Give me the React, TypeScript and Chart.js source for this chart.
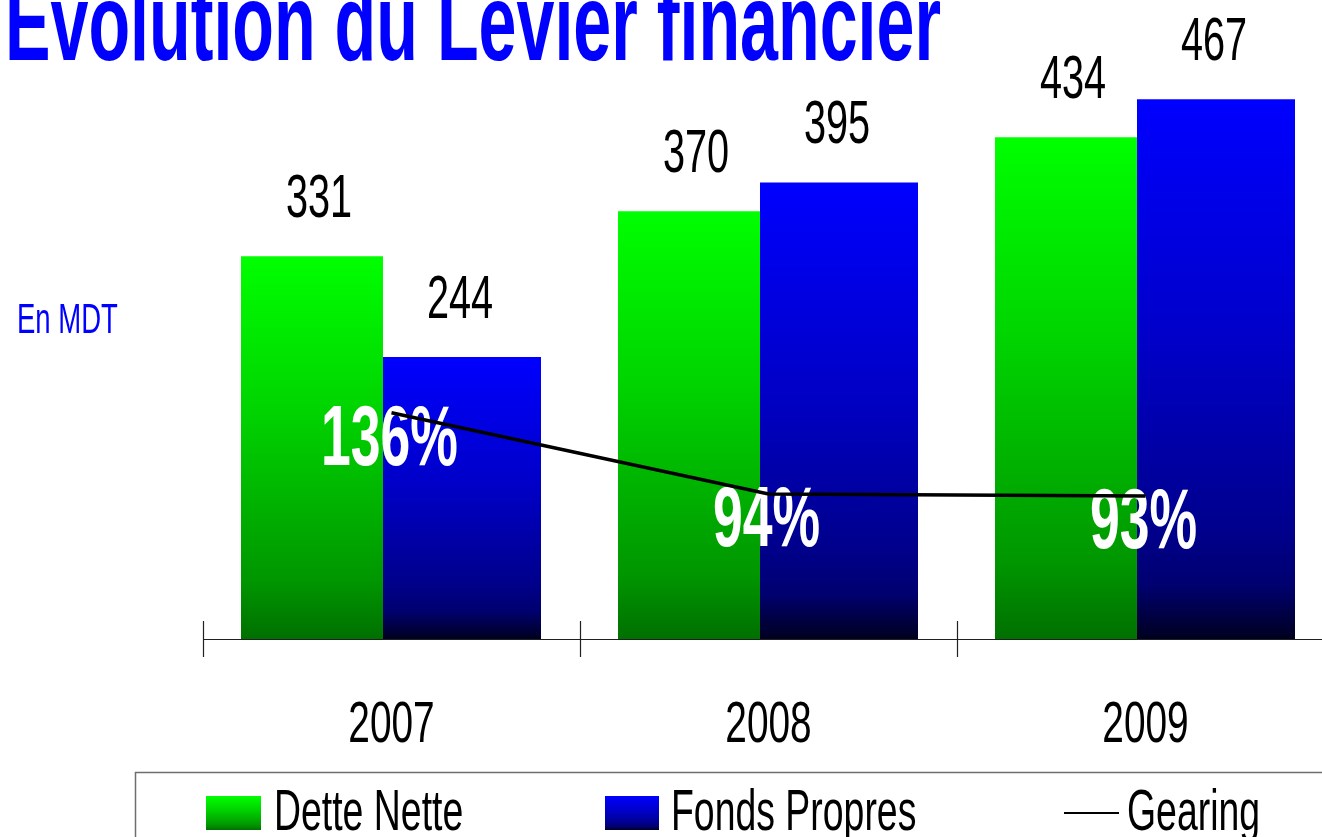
import React, { useEffect, useRef } from "react";
import { Chart, registerables } from "chart.js";

Chart.register(...registerables);

const categories = ["2007", "2008", "2009"];
const detteNette = [331, 370, 434];
const fondsPropres = [244, 395, 467];
const gearing = [136, 94, 93];
const gearingLabels = ["136%", "94%", "93%"];
const seriesNames = ["Dette Nette", "Fonds Propres", "Gearing"];
const titleText = "Evolution du Levier financier";
const unitText = "En MDT";

const FONT = '"Liberation Sans", Arial, Helvetica, sans-serif';

function drawText(
  ctx: CanvasRenderingContext2D,
  text: string,
  x: number,
  y: number,
  size: number,
  weight: string,
  color: string,
  sx: number,
  align: "left" | "center"
) {
  ctx.save();
  ctx.font = `${weight} ${size}px ${FONT}`;
  ctx.fillStyle = color;
  ctx.textBaseline = "alphabetic";
  ctx.textAlign = "left";
  const w = ctx.measureText(text).width * sx;
  const x0 = align === "center" ? x - w / 2 : x;
  ctx.translate(x0, y);
  ctx.scale(sx, 1);
  ctx.fillText(text, 0, 0);
  ctx.restore();
}

function greenGradient(ctx: CanvasRenderingContext2D, top: number, bottom: number) {
  const g = ctx.createLinearGradient(0, top, 0, bottom);
  g.addColorStop(0, "#00FF00");
  g.addColorStop(0.4, "#00D400");
  g.addColorStop(0.85, "#009600");
  g.addColorStop(1, "#007000");
  return g;
}

function blueGradient(ctx: CanvasRenderingContext2D, top: number, bottom: number) {
  const g = ctx.createLinearGradient(0, top, 0, bottom);
  g.addColorStop(0, "#0000FF");
  g.addColorStop(0.45, "#0000C8");
  g.addColorStop(0.8, "#00008C");
  g.addColorStop(0.9, "#000070");
  g.addColorStop(1, "#000020");
  return g;
}

function barFill(kind: "green" | "blue") {
  return (c: any) => {
    const chart = c.chart;
    const ys = chart.scales && chart.scales.y;
    if (!ys || !chart.chartArea) return kind === "green" ? "#00C000" : "#0000C0";
    const v = c.raw as number;
    const top = ys.getPixelForValue(v);
    const bottom = ys.getPixelForValue(0);
    if (!isFinite(top) || !isFinite(bottom) || bottom - top < 1)
      return kind === "green" ? "#00C000" : "#0000C0";
    return kind === "green"
      ? greenGradient(chart.ctx, top, bottom)
      : blueGradient(chart.ctx, top, bottom);
  };
}

const overlayPlugin = {
  id: "overlay",
  beforeDatasetDraw(chart: any, args: any) {
    if (args.index !== 2) return;
    const ctx = chart.ctx as CanvasRenderingContext2D;
    const meta = chart.getDatasetMeta(2);
    meta.data.forEach((pt: any, i: number) => {
      drawText(ctx, gearingLabels[i], pt.x - 2, pt.y + 52, 85, "bold", "#FFFFFF", 0.63, "center");
    });
  },
  afterDatasetsDraw(chart: any) {
    const ctx = chart.ctx as CanvasRenderingContext2D;
    const area = chart.chartArea;
    const xs = chart.scales.x;
    // axis line and tick marks
    ctx.save();
    ctx.strokeStyle = "#202020";
    ctx.lineWidth = 1.2;
    ctx.beginPath();
    ctx.moveTo(area.left, area.bottom + 0.5);
    ctx.lineTo(area.right, area.bottom + 0.5);
    const n = categories.length;
    const step = (area.right - area.left) / n;
    for (let i = 0; i <= n; i++) {
      const x = Math.round(area.left + i * step) + 0.5;
      ctx.moveTo(x, area.bottom - 18);
      ctx.lineTo(x, area.bottom + 18);
    }
    ctx.stroke();
    ctx.restore();

    // value labels
    [0, 1].forEach((di) => {
      const meta = chart.getDatasetMeta(di);
      const vals = di === 0 ? detteNette : fondsPropres;
      const dx = di === 0 ? 7 : -2;
      meta.data.forEach((bar: any, i: number) => {
        drawText(ctx, String(vals[i]), bar.x + dx, bar.y - 39, 61, "normal", "#000000", 0.65, "center");
      });
    });

    // category labels
    categories.forEach((c, i) => {
      const x = xs.getPixelForValue(i);
      drawText(ctx, c, x, area.bottom + 103, 58, "normal", "#000000", 0.67, "center");
    });
  },
  afterDraw(chart: any) {
    const ctx = chart.ctx as CanvasRenderingContext2D;
    // title
    drawText(ctx, titleText, 5, 60, 110, "bold", "#0000FF", 0.62, "left");
    // unit
    drawText(ctx, unitText, 17, 333, 43, "normal", "#0000FF", 0.64, "left");

    // legend frame
    ctx.save();
    ctx.strokeStyle = "#6E6E6E";
    ctx.lineWidth = 1.5;
    ctx.strokeRect(135.5, 772.5, 1400, 200);
    ctx.restore();

    // legend items
    ctx.save();
    ctx.fillStyle = greenGradient(ctx, 796, 830);
    ctx.fillRect(206, 796, 55, 34);
    ctx.fillStyle = blueGradient(ctx, 796, 830);
    ctx.fillRect(605, 796, 54, 34);
    ctx.strokeStyle = "#000000";
    ctx.lineWidth = 2;
    ctx.beginPath();
    ctx.moveTo(1064, 813);
    ctx.lineTo(1119, 813);
    ctx.stroke();
    ctx.restore();
    drawText(ctx, seriesNames[0], 274, 830, 58, "normal", "#000000", 0.645, "left");
    drawText(ctx, seriesNames[1], 671, 830, 58, "normal", "#000000", 0.645, "left");
    drawText(ctx, seriesNames[2], 1127, 830, 58, "normal", "#000000", 0.645, "left");
  },
};

export default function App() {
  const canvasRef = useRef<HTMLCanvasElement | null>(null);

  useEffect(() => {
    const canvas = canvasRef.current;
    if (!canvas) return;
    const chart = new Chart(canvas, {
      type: "bar",
      data: {
        labels: categories,
        datasets: [
          {
            type: "bar",
            label: seriesNames[0],
            data: detteNette,
            backgroundColor: barFill("green") as any,
            borderWidth: 0,
            categoryPercentage: 0.8435,
            barPercentage: 0.893,
            yAxisID: "y",
          },
          {
            type: "bar",
            label: seriesNames[1],
            data: fondsPropres,
            backgroundColor: barFill("blue") as any,
            borderWidth: 0,
            categoryPercentage: 0.748,
            barPercentage: 1.1206,
            yAxisID: "y",
          },
          {
            type: "line",
            label: seriesNames[2],
            data: gearing,
            borderColor: "#000000",
            borderWidth: 3.5,
            pointRadius: 0,
            tension: 0,
            fill: false,
            order: -1,
            yAxisID: "y1",
          } as any,
        ],
      },
      options: {
        responsive: false,
        animation: false,
        devicePixelRatio: 1,
        layout: { padding: { left: 203, right: 6, top: 61, bottom: 198 } },
        plugins: {
          legend: { display: false },
          title: { display: false },
          tooltip: { enabled: false },
        },
        scales: {
          x: { type: "category", offset: true, display: false },
          y: { type: "linear", min: 0, max: 500, display: false },
          y1: { type: "linear", min: 19, max: 318, display: false },
        },
      },
      plugins: [overlayPlugin],
    });
    return () => chart.destroy();
  }, []);

  return (
    <div
      style={{
        position: "fixed",
        left: 0,
        top: 0,
        width: 1322,
        height: 837,
        overflow: "hidden",
        background: "#FFFFFF",
      }}
    >
      <canvas ref={canvasRef} width={1340} height={837} style={{ display: "block" }} />
    </div>
  );
}
